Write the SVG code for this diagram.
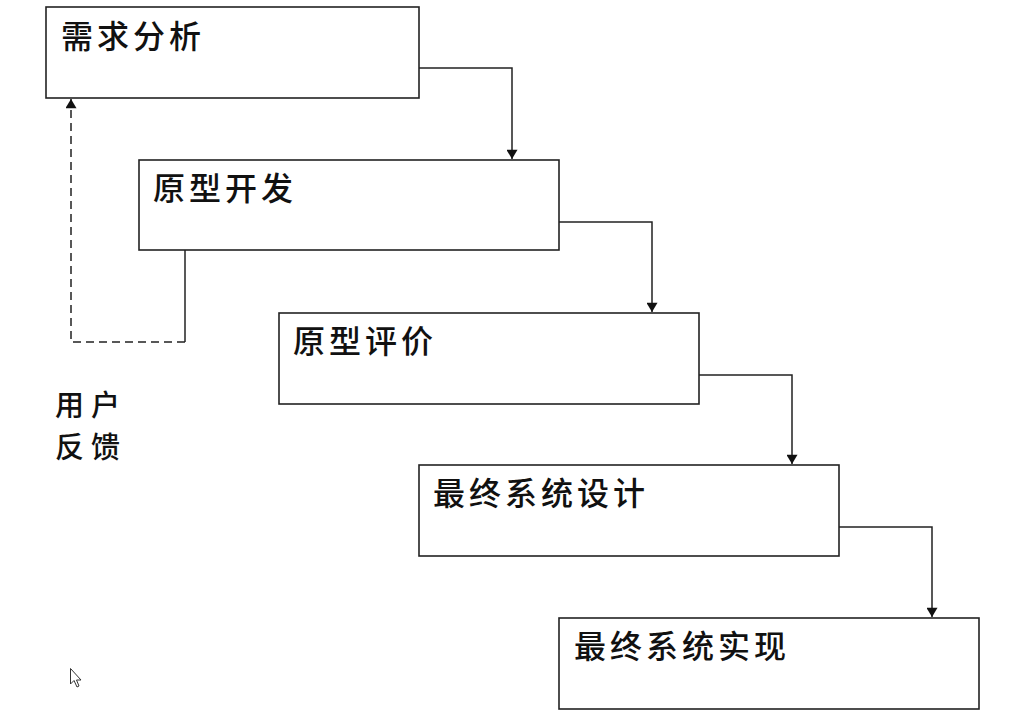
<svg xmlns="http://www.w3.org/2000/svg" width="1029" height="721" viewBox="0 0 1029 721">
<style>
.box{fill:#fff;stroke:#222;stroke-width:1.6}
.t{font-family:"Noto Sans CJK SC","Liberation Sans",sans-serif;font-size:32px;font-weight:500;fill:#111;letter-spacing:4px}
.fb{font-size:29px;letter-spacing:7px}
.c{fill:none;stroke:#222;stroke-width:1.5}
.d{fill:none;stroke:#222;stroke-width:1.5;stroke-dasharray:8 5}
</style>
<defs>
<marker id="ah" viewBox="0 0 10 12" refX="10" refY="6" markerWidth="12" markerHeight="11" markerUnits="userSpaceOnUse" orient="auto">
<path d="M0,0 L10,6 L0,12 z" fill="#111"/>
</marker>
</defs>
<rect width="1029" height="721" fill="#fff"/>
<g id="connectors">
<polyline class="c" points="419,68 512,68 512,159" marker-end="url(#ah)"/>
<polyline class="c" points="559,222 652,222 652,312" marker-end="url(#ah)"/>
<polyline class="c" points="699,375 792,375 792,464" marker-end="url(#ah)"/>
<polyline class="c" points="839,527 932,527 932,617" marker-end="url(#ah)"/>
<polyline class="c" points="185,250 185,342"/>
<polyline class="d" points="185,342 71,342 71,99" marker-end="url(#ah)"/>
</g>
<g id="n1"><rect class="box" x="46" y="7" width="373" height="91"/><text class="t" x="61" y="48">需求分析</text></g>
<g id="n2"><rect class="box" x="139" y="160" width="420" height="90"/><text class="t" x="153" y="200">原型开发</text></g>
<g id="n3"><rect class="box" x="279" y="313" width="420" height="91"/><text class="t" x="293" y="353">原型评价</text></g>
<g id="n4"><rect class="box" x="419" y="465" width="420" height="91"/><text class="t" x="433" y="505">最终系统设计</text></g>
<g id="n5"><rect class="box" x="559" y="618" width="420" height="91"/><text class="t" x="574" y="658">最终系统实现</text></g>
<g id="feedback-label">
<text class="t fb"><tspan x="55" y="416">用户</tspan><tspan x="55" y="458">反馈</tspan></text>
</g>
<path d="M70.5,668.5 L70.5,684 L74,680.5 L77,687 L79,686 L76.5,680 L81,680 z" fill="#fff" stroke="#333" stroke-width="1"/>
</svg>
